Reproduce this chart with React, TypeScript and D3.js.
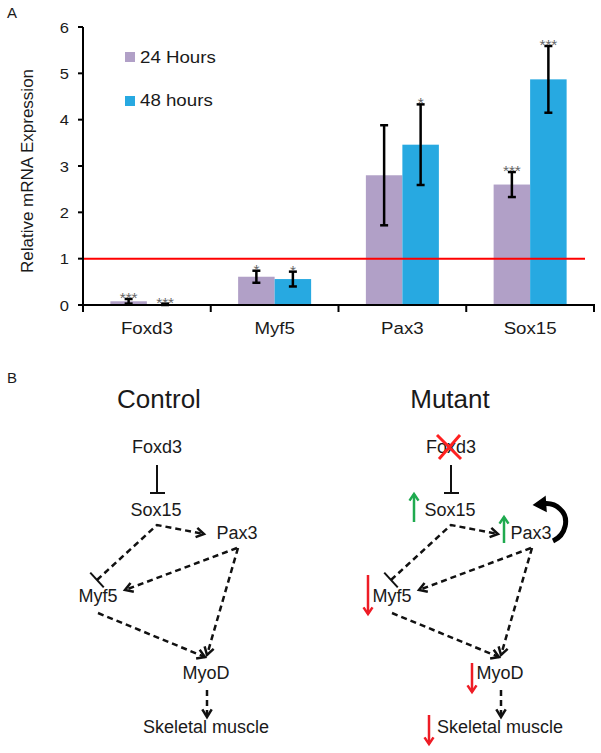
import React from "react";
import * as d3 from "d3";

const categories = ["Foxd3", "Myf5", "Pax3", "Sox15"];
const seriesNames = ["24 Hours", "48 hours"];
const values24 = [0.08, 0.61, 2.8, 2.6];
const err24 = [0.05, 0.13, 1.08, 0.27];
const values48 = [0.015, 0.56, 3.46, 4.87];
const err48 = [0.015, 0.16, 0.87, 0.72];
const stars24 = ["***", "*", "", "***"];
const stars48 = ["***", "*", "*", "***"];
const yTicks = [0, 1, 2, 3, 4, 5, 6];
const threshold = 1;

const PURPLE = "#B1A0C7";
const BLUE = "#27A9E1";
const FONT = "Liberation Sans, Arial, sans-serif";
const TXT = "#1a1a1a";

function SText({ x, y, size, anchor = "start", children, fill = TXT, sx = 1.1 }: any) {
  return (
    <text
      transform={`translate(${x},${y}) scale(${sx},1)`}
      fontSize={size}
      fontFamily={FONT}
      textAnchor={anchor}
      fill={fill}
    >
      {children}
    </text>
  );
}

function BarChart() {
  const x0 = 83, x1 = 594, yTop = 27, yBot = 305;
  const x = d3.scaleBand<string>().domain(categories).range([x0, x1]);
  const y = d3.scaleLinear().domain([0, 6]).range([yBot, yTop]);
  const inner = d3.scaleBand<string>().domain(seriesNames).range([0, 73]);
  const bw = inner.bandwidth();
  const series = [
    { name: seriesNames[0], vals: values24, errs: err24, stars: stars24, color: PURPLE },
    { name: seriesNames[1], vals: values48, errs: err48, stars: stars48, color: BLUE },
  ];
  return (
    <g>
      {series.map((s) =>
        categories.map((c, i) => {
          const bx = (x(c) as number) + x.bandwidth() / 2 - 36.5 + (inner(s.name) as number);
          const cx = bx + bw / 2;
          const v = s.vals[i];
          const eTop = y(v + s.errs[i]);
          const eBot = y(Math.max(0, v - s.errs[i]));
          return (
            <g key={s.name + c}>
              <rect x={bx} y={y(v)} width={bw} height={y(0) - y(v)} fill={s.color} />
              <line x1={cx} x2={cx} y1={eTop} y2={eBot} stroke="#000" strokeWidth={2.5} />
              <line x1={cx - 4} x2={cx + 4} y1={eTop} y2={eTop} stroke="#000" strokeWidth={2.5} />
              <line x1={cx - 4} x2={cx + 4} y1={eBot} y2={eBot} stroke="#000" strokeWidth={2.5} />
              {s.stars[i] && (
                <SText x={cx} y={eTop + 4} size={14} anchor="middle" fill="#666">
                  {s.stars[i]}
                </SText>
              )}
            </g>
          );
        })
      )}
      {/* threshold line */}
      <line x1={x0} x2={585} y1={y(threshold)} y2={y(threshold)} stroke="#FF0000" strokeWidth={2} />
      {/* y axis */}
      <line x1={x0} x2={x0} y1={yTop} y2={yBot + 1} stroke="#000" strokeWidth={2} />
      {yTicks.map((t) => (
        <g key={t}>
          <line x1={x0 - 5} x2={x0} y1={y(t)} y2={y(t)} stroke="#000" strokeWidth={2} />
          <SText x={69} y={y(t) + 5.5} size={15} anchor="end">
            {t}
          </SText>
        </g>
      ))}
      {/* x axis */}
      <line x1={x0 - 1} x2={x1 + 1} y1={yBot} y2={yBot} stroke="#000" strokeWidth={2} />
      {[...categories.map((c) => x(c) as number), x1].map((tx, i) => (
        <line key={i} x1={tx} x2={tx} y1={yBot} y2={yBot + 7} stroke="#000" strokeWidth={2} />
      ))}
      {categories.map((c) => (
        <SText key={c} x={(x(c) as number) + x.bandwidth() / 2} y={334} size={17} anchor="middle">
          {c}
        </SText>
      ))}
      {/* y label */}
      <text
        transform="translate(33,171) rotate(-90)"
        fontSize={17}
        fontFamily={FONT}
        textAnchor="middle"
        fill={TXT}
      >
        Relative mRNA Expression
      </text>
      {/* legend */}
      {series.map((s, i) => (
        <g key={s.name}>
          <rect x={125} y={52 + i * 44} width={10} height={10} fill={s.color} />
          <SText x={140} y={63 + i * 43} size={17}>
            {s.name}
          </SText>
        </g>
      ))}
      <SText x={7} y={18} size={15} sx={1}>A</SText>
    </g>
  );
}

function arrowHead(x1: number, y1: number, x2: number, y2: number, len = 9, ang = 0.55) {
  const a = Math.atan2(y2 - y1, x2 - x1);
  const p1 = [x2 - len * Math.cos(a - ang), y2 - len * Math.sin(a - ang)];
  const p2 = [x2 - len * Math.cos(a + ang), y2 - len * Math.sin(a + ang)];
  return `M${p1[0]},${p1[1]}L${x2},${y2}L${p2[0]},${p2[1]}`;
}

function ColorArrow({ x, y1, y2, color }: any) {
  return (
    <g stroke={color} strokeWidth={2.5} fill="none">
      <line x1={x} x2={x} y1={y1} y2={y2} />
      <path d={arrowHead(x, y1, x, y2, 8, 0.6)} />
    </g>
  );
}

function Diagram({ dx, mutant }: { dx: number; mutant: boolean }) {
  const D = { stroke: "#111", strokeWidth: 2.5, strokeDasharray: "6,4", fill: "none" };
  const H = { stroke: "#111", strokeWidth: 2.5, fill: "none" };
  const edges = [
    [237, 548, 125, 590],
    [238, 548, 207, 655],
    [98, 613, 205, 657],
    [207, 690, 207, 717],
  ];
  // T-bar at Myf5
  const tx = 97, ty = 580, ax = 157, ay = 525;
  const ang = Math.atan2(ay - ty, ax - tx) + Math.PI / 2;
  const tb = [tx + 10 * Math.cos(ang), ty + 10 * Math.sin(ang), tx - 10 * Math.cos(ang), ty - 10 * Math.sin(ang)];
  const t = (s: string, cx: number, by: number) => (
    <text x={cx} y={by} fontSize={18} fontFamily={FONT} textAnchor="middle" fill={TXT}>
      {s}
    </text>
  );
  return (
    <g transform={`translate(${dx},0)`}>
      {t("Foxd3", 157, 453)}
      <line x1={157} x2={157} y1={465} y2={493} stroke="#111" strokeWidth={2} />
      <line x1={150} x2={165} y1={493} y2={493} stroke="#111" strokeWidth={2} />
      {t("Sox15", 156, 516)}
      {t("Pax3", 237, 539)}
      {t("Myf5", 98, 602)}
      {t("MyoD", 206, 679)}
      {t("Skeletal muscle", 206, 733)}
      <path d={`M${tx},${ty}L${ax},${ay}L204,534`} {...D} />
      <path d={arrowHead(ax, ay, 204, 534)} {...H} />
      <line x1={tb[0]} y1={tb[1]} x2={tb[2]} y2={tb[3]} stroke="#111" strokeWidth={2} />
      {edges.map((e, i) => (
        <g key={i}>
          <line x1={e[0]} y1={e[1]} x2={e[2]} y2={e[3]} {...D} />
          <path d={arrowHead(e[0], e[1], e[2], e[3])} {...H} />
        </g>
      ))}
      {mutant && (
        <g>
          <g stroke="#FF2020" strokeWidth={3}>
            <line x1={143} y1={435} x2={167} y2={459} />
            <line x1={166} y1={435} x2={145} y2={459} />
          </g>
          <ColorArrow x={120} y1={522} y2={494} color="#1FAA4F" />
          <ColorArrow x={210} y1={543} y2={517} color="#1FAA4F" />
          <ColorArrow x={74} y1={575} y2={614} color="#EE1C25" />
          <ColorArrow x={178} y1={663} y2={692} color="#EE1C25" />
          <ColorArrow x={135} y1={715} y2={744} color="#EE1C25" />
          <path d="M259,541 C272,535 276,518 266,509 C261,504 254,503 248,504" stroke="#000" strokeWidth={5} fill="none" />
          <path d="M251,497 L240,505 L252,511 Z" fill="#000" stroke="#000" strokeWidth={1.5} />
        </g>
      )}
    </g>
  );
}

export default function App() {
  return (
    <svg
      width={601}
      height={753}
      style={{ position: "absolute", left: 0, top: 0, background: "#fff" }}
    >
      <rect width={601} height={753} fill="#fff" />
      <BarChart />
      <text x={7} y={383} fontSize={15} fontFamily={FONT} fill={TXT}>B</text>
      <text x={159} y={408} fontSize={26} fontFamily={FONT} textAnchor="middle" fill={TXT}>Control</text>
      <text x={450} y={408} fontSize={26} fontFamily={FONT} textAnchor="middle" fill={TXT}>Mutant</text>
      <Diagram dx={0} mutant={false} />
      <Diagram dx={294} mutant={true} />
    </svg>
  );
}
